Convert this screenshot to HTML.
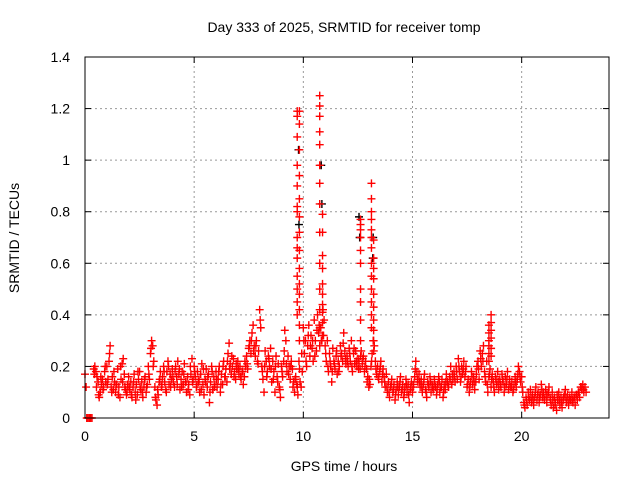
<!DOCTYPE html>
<html><head><meta charset="utf-8"><style>
body{margin:0;background:#fff}
svg text{font-family:"Liberation Sans",sans-serif;font-size:14px;fill:#000}
</style></head><body>
<svg id="chart" width="640" height="480" xmlns="http://www.w3.org/2000/svg">
<rect width="640" height="480" fill="#fff"/>
<text x="344" y="32" text-anchor="middle">Day 333 of 2025, SRMTID for receiver tomp</text>
<text x="344" y="471" text-anchor="middle">GPS time / hours</text>
<text transform="translate(19,238) rotate(-90)" text-anchor="middle">SRMTID / TECUs</text>
<g id="grid"></g><g id="marks"></g>
<rect x="85" y="57" width="524" height="361" fill="none" stroke="#000" stroke-width="1"/>
<g id="ticks"></g>
</svg>
<script>
const xTicks=[0,5,10,15,20];
const yTicks=[0,0.2,0.4,0.6,0.8,1,1.2,1.4];
const yTickLabels=["0","0.2","0.4","0.6","0.8","1","1.2","1.4"];
const t0=0, dt=0.05;
const series=[
0.17,0.12,null,null,null,null,null,null,0.19,0.2,0.18,0.16,0.14,0.08,0.1,0.13,0.15,0.12,0.18,0.14,
0.2,0.15,0.22,0.28,0.12,0.16,0.11,0.14,0.1,0.13,0.19,0.12,0.08,0.15,0.21,0.23,0.17,0.11,0.09,0.13,
0.16,0.11,0.14,0.08,0.12,0.17,0.1,0.13,0.09,0.15,0.18,0.11,0.14,0.08,0.12,0.16,0.1,0.13,0.2,0.15,
0.25,0.3,0.28,0.22,0.12,0.07,0.05,0.09,0.14,0.18,0.12,0.16,0.2,0.14,0.11,0.18,0.22,0.13,0.17,0.15,
0.19,0.14,0.12,0.2,0.16,0.22,0.17,0.11,0.15,0.18,0.13,0.21,0.14,0.1,0.16,0.13,0.09,0.17,0.23,0.15,
0.2,0.16,0.12,0.18,0.14,0.1,0.17,0.21,0.13,0.09,0.15,0.19,0.12,0.17,0.06,0.14,0.2,0.11,0.16,0.13,
0.18,0.12,0.15,0.2,0.1,0.17,0.13,0.22,0.16,0.19,0.14,0.25,0.29,0.21,0.17,0.2,0.23,0.18,0.15,0.19,
0.22,0.17,0.2,0.15,0.18,0.13,0.16,0.2,0.24,0.19,0.27,0.3,0.25,0.33,0.36,0.28,0.24,0.3,0.22,0.26,
0.42,0.35,0.2,0.15,0.1,0.26,0.22,0.18,0.24,0.2,0.27,0.14,0.22,0.18,0.1,0.24,0.16,0.21,0.12,0.08,
0.2,0.16,0.22,0.34,0.3,0.18,0.24,0.2,0.15,0.22,0.19,0.14,0.1,0.16,0.13,0.09,0.22,0.14,0.12,0.18,
0.35,0.25,0.3,0.2,0.28,0.36,0.24,0.32,0.27,0.22,0.38,0.3,0.26,0.4,0.33,0.28,0.35,0.3,0.42,0.38,
0.28,0.22,0.3,0.18,0.25,0.2,0.14,0.27,0.22,0.19,0.24,0.17,0.22,0.2,0.28,0.25,0.22,0.33,0.26,0.21,
0.24,0.2,0.27,0.22,0.3,0.18,0.25,0.21,0.26,0.2,0.23,0.22,0.19,0.26,0.21,0.24,0.18,0.22,0.19,0.16,
0.12,0.13,0.2,0.25,0.3,0.28,0.22,0.17,0.2,0.15,0.18,0.22,0.14,0.19,0.16,0.12,0.17,0.1,0.14,0.08,
0.12,0.15,0.1,0.13,0.07,0.11,0.14,0.09,0.12,0.16,0.1,0.13,0.08,0.12,0.15,0.1,0.13,0.06,0.11,0.14,
0.1,0.13,0.16,0.22,0.18,0.14,0.17,0.12,0.15,0.1,0.13,0.17,0.11,0.08,0.14,0.12,0.16,0.1,0.13,0.11,
0.15,0.12,0.09,0.13,0.16,0.1,0.12,0.15,0.08,0.13,0.11,0.17,0.14,0.12,0.16,0.2,0.13,0.15,0.18,0.14,
0.2,0.15,0.23,0.18,0.14,0.2,0.17,0.22,0.16,0.2,0.12,0.15,0.1,0.14,0.18,0.13,0.16,0.11,0.14,0.2,
0.22,0.15,0.26,0.2,0.25,0.28,0.18,0.14,0.22,0.1,0.16,0.19,0.12,0.17,0.14,0.1,0.16,0.13,0.18,0.11,
0.15,0.12,0.17,0.14,0.1,0.16,0.13,0.18,0.11,0.15,0.12,0.14,0.1,0.13,0.16,0.12,0.15,0.2,0.18,0.14,
0.16,0.1,0.06,0.04,0.08,0.05,0.1,0.07,0.11,0.06,0.09,0.05,0.08,0.12,0.07,0.1,0.06,0.09,0.13,0.08,
0.1,0.07,0.11,0.06,0.09,0.12,0.08,0.05,0.1,0.04,0.08,0.06,0.03,0.07,0.1,0.05,0.08,0.04,0.07,0.09,
0.11,0.06,0.09,0.05,0.08,0.07,0.1,0.06,0.08,0.05,0.09,0.07,0.1,0.08,0.12,0.11,0.13,0.1,0.12,0.1
];
const t0b=0.025, dtb=0.1;
const series2=[
null,null,null,null,0.17,0.12,0.09,0.16,0.11,0.2,
0.13,0.25,0.1,0.18,0.13,0.09,0.2,0.14,0.12,0.1,
0.12,0.09,0.14,0.07,0.18,0.12,0.1,0.15,0.12,0.17,
0.27,0.2,0.08,0.11,0.15,0.13,0.18,0.1,0.2,0.12,
0.16,0.18,0.13,0.19,0.12,0.17,0.14,0.11,0.2,0.14,
0.18,0.13,0.15,0.11,0.19,0.14,0.16,0.1,0.18,0.12,
0.15,0.18,0.13,0.2,0.16,0.22,0.19,0.24,0.16,0.21,
0.19,0.16,0.18,0.22,0.21,0.28,0.3,0.26,0.28,0.21,
0.38,0.18,0.2,0.16,0.23,0.19,0.15,0.2,0.14,0.11,
0.18,0.26,0.21,0.17,0.2,0.12,0.15,0.12,0.19,0.25,
0.3,0.22,0.32,0.28,0.3,0.24,0.34,0.36,0.3,0.32,
0.25,0.2,0.22,0.18,0.21,0.26,0.18,0.24,0.29,0.23,
0.22,0.25,0.2,0.27,0.22,0.19,0.24,0.23,0.2,0.14,
0.15,0.22,0.26,0.19,0.16,0.2,0.17,0.14,0.12,0.1,
0.13,0.11,0.09,0.12,0.14,0.11,0.1,0.13,0.09,0.12,
0.12,0.19,0.15,0.14,0.12,0.15,0.1,0.13,0.14,0.12,
0.13,0.11,0.14,0.12,0.1,0.14,0.13,0.15,0.17,0.16,
0.18,0.2,0.16,0.19,0.18,0.13,0.12,0.16,0.14,0.17,
0.19,0.23,0.22,0.16,0.13,0.17,0.15,0.12,0.15,0.14,
0.13,0.15,0.12,0.15,0.13,0.12,0.11,0.14,0.17,0.16,
0.12,0.05,0.07,0.08,0.08,0.07,0.1,0.09,0.08,0.11,
0.08,0.09,0.1,0.07,0.07,0.05,0.09,0.07,0.06,0.08,
0.08,0.07,0.07,0.07,0.08,0.09,0.1,0.12,0.11,null
];
const spikeTimes=[9.72,9.82,10.75,10.88,12.62,13.12,13.22,18.5,18.6];
const spikeValues=[
[1.19,1.17,1.09,0.98,0.9,0.82,0.8,0.7,0.66,0.62,0.55,0.5,0.45,0.4],
[1.19,1.14,1.04,0.94,0.85,0.78,0.72,0.65,0.58,0.52,0.48,0.42,0.36,0.3],
[1.25,1.21,1.17,1.11,1.06,0.98,0.91,0.83,0.72,0.6,0.5,0.42,0.35],
[0.79,0.72,0.63,0.58,0.52,0.48,0.44,0.41,0.37,0.32],
[0.77,0.75,0.73,0.7,0.65,0.6,0.5,0.45,0.38,0.3],
[0.91,0.85,0.8,0.77,0.73,0.7,0.66,0.6,0.55,0.5,0.45,0.4,0.35],
[0.69,0.62,0.58,0.54,0.48,0.43,0.38,0.34,0.3],
[0.36,0.33,0.3,0.28,0.25,0.22],
[0.4,0.37,0.34,0.31,0.27,0.24]];
const blackTimes=[9.78,9.8,10.82,10.85,12.55,12.58,13.2,13.18];
const blackValues=[1.04,0.75,0.98,0.83,0.78,0.7,0.7,0.62];
const zeroTimes=[0.08,0.14,0.2,0.26,0.32];
const X0=85,X1=609,Y0=418,Y1=57,XMAX=24,YMAX=1.4;
const sx=v=>X0+(X1-X0)*v/XMAX, sy=v=>Y0-(Y0-Y1)*v/YMAX;
const NS="http://www.w3.org/2000/svg";
const grid=document.getElementById('grid'),ticks=document.getElementById('ticks'),marks=document.getElementById('marks');
function mk(tag,attrs,parent){const e=document.createElementNS(NS,tag);for(const k in attrs)e.setAttribute(k,attrs[k]);parent.appendChild(e);return e;}
xTicks.forEach(v=>{
  const x=sx(v);
  if(v>0){const g=mk('line',{x1:x,x2:x,y1:Y0,y2:Y1,stroke:'#999','stroke-dasharray':'2,3'},grid);
  
  }
  mk('line',{x1:x,x2:x,y1:Y0,y2:Y0-6,stroke:'#000'},ticks);
  mk('line',{x1:x,x2:x,y1:Y1,y2:Y1+6,stroke:'#000'},ticks);
  const t=mk('text',{x:x,y:Y0+23,'text-anchor':'middle'},ticks);t.textContent=v;
  
  
});
yTicks.forEach((v,i)=>{
  const y=sy(v);
  if(v>0&&v<YMAX){const g=mk('line',{x1:X0,x2:X1,y1:y,y2:y,stroke:'#999','stroke-dasharray':'2,3'},grid);
  
  }
  mk('line',{x1:X0,x2:X0+6,y1:y,y2:y,stroke:'#000'},ticks);
  mk('line',{x1:X1,x2:X1-6,y1:y,y2:y,stroke:'#000'},ticks);
  const t=mk('text',{x:X0-15,y:y+5,'text-anchor':'end'},ticks);t.textContent=yTickLabels[i];
  
  
});
function cross(t,v,col){
  const x=sx(t),y=sy(v);
  const p=mk('path',{d:`M${x-4},${y}h8M${x},${y-4}v8`,stroke:col,'stroke-width':1.4,fill:'none'},marks);
  
  
}
blackTimes.forEach((t,i)=>cross(t,blackValues[i],'#000'));
series.forEach((v,i)=>{if(v!==null)cross(t0+i*dt,v,'#f00');});
series2.forEach((v,i)=>{if(v!==null)cross(t0b+i*dtb,v,'#f00');});
spikeTimes.forEach((t,i)=>spikeValues[i].forEach(v=>cross(t,v,'#f00')));
zeroTimes.forEach(t=>cross(t,0,'#f00'));
</script>
</body></html>
